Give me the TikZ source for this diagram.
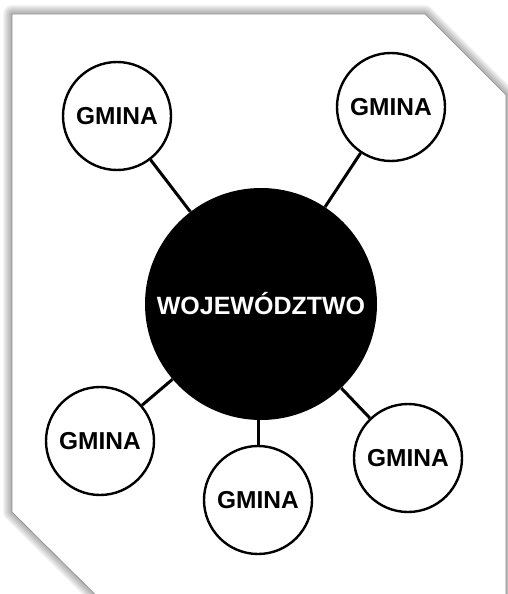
\documentclass[tikz,border=0pt]{standalone}
\usepackage{fontspec}
\setmainfont{Liberation Sans}

\begin{document}
\begin{tikzpicture}[x=1pt, y=-1pt,
		gmina/.style={circle, draw=black, line width=2.4pt, fill=white, minimum size=108pt, inner sep=0pt, font=\fontsize{24.5}{28}\selectfont\bfseries},
		woj/.style={circle, fill=black, text=white, minimum size=232pt, inner sep=0pt, font=\fontsize{25}{28}\selectfont\bfseries},
		conn/.style={black, line width=3pt}]
	\useasboundingbox (0,0) rectangle (508,594);
	\clip (0,0) rectangle (508,594);
	% card with soft shadow
	\foreach \w in {1,...,9}
		\draw[black, opacity=0.04, line width=2*\w pt, line join=round]
			(12,14) -- (425,14) -- (506,95) -- (506,620) -- (121,620) -- (12,512) -- cycle;
	\filldraw[fill=white, draw=black!45, line width=0.6pt]
		(12,14) -- (425,14) -- (506,95) -- (506,620) -- (121,620) -- (12,512) -- cycle;

	\node[woj] (w) at (261,304) {WOJEWÓDZTWO};
	\node[gmina] (g1) at (117,116) {GMINA};
	\node[gmina] (g2) at (391,107) {GMINA};
	\node[gmina] (g3) at (100,441) {GMINA};
	\node[gmina] (g4) at (258,500) {GMINA};
	\node[gmina] (g5) at (408,458) {GMINA};

	\draw[conn] (w) -- (g1);
	\draw[conn] (w) -- (g2);
	\draw[conn] (w) -- (g3);
	\draw[conn] (g4.north |- w.south) -- (g4.north);
	\draw[conn] (w) -- (g5);
\end{tikzpicture}
\end{document}
